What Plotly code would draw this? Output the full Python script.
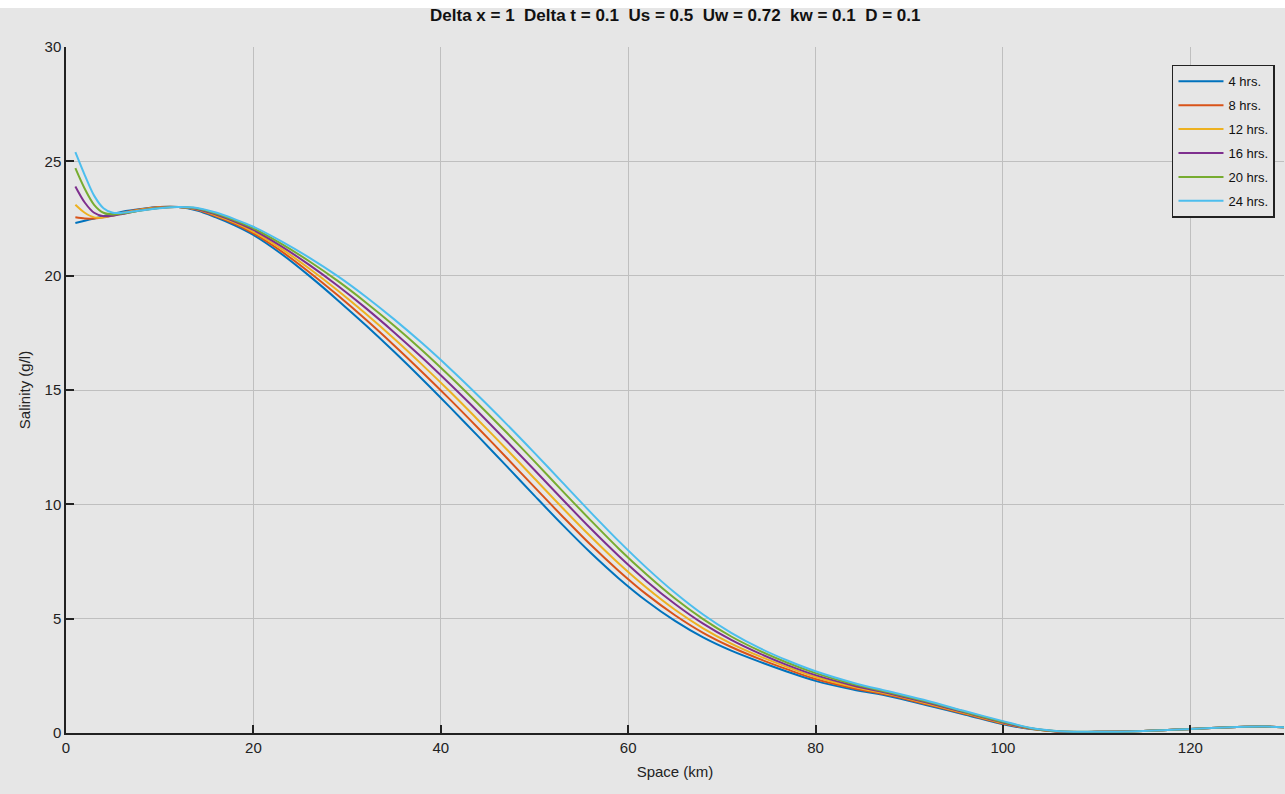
import plotly.graph_objects as go

# Distance along river (km)
space_km = [1, 2, 3, 4, 5, 6, 8, 10, 12, 14, 16, 18, 20, 23, 26, 29, 32, 35, 38, 41, 44, 47, 50,
            53, 56, 59, 62, 65, 68, 71, 74, 77, 80, 84, 88, 92, 96, 100, 103, 106, 110, 115, 120,
            125, 128, 130]

sal_4h = [22.3, 22.4, 22.5, 22.6, 22.7, 22.8, 22.92, 23.0, 23.0, 22.85, 22.55, 22.2, 21.78, 20.95,
          19.98, 18.93, 17.83, 16.68, 15.48, 14.24, 12.97, 11.68, 10.38, 9.1, 7.88, 6.76, 5.76, 4.9,
          4.18, 3.6, 3.12, 2.68, 2.28, 1.9, 1.6, 1.2, 0.8, 0.38, 0.17, 0.06, 0.05, 0.09, 0.18,
          0.26, 0.28, 0.25]
sal_8h = [22.55, 22.5, 22.5, 22.55, 22.65, 22.75, 22.9, 23.0, 23.0, 22.88, 22.6, 22.27, 21.85, 21.06,
          20.14, 19.14, 18.08, 16.96, 15.79, 14.58, 13.33, 12.05, 10.75, 9.47, 8.23, 7.09, 6.05, 5.15,
          4.38, 3.76, 3.24, 2.78, 2.36, 1.96, 1.64, 1.24, 0.83, 0.41, 0.18, 0.06, 0.05, 0.09, 0.18,
          0.26, 0.28, 0.25]
sal_12h = [23.1, 22.75, 22.55, 22.55, 22.62, 22.72, 22.88, 22.98, 23.0, 22.9, 22.63, 22.32, 21.92,
           21.17, 20.3, 19.35, 18.33, 17.25, 16.11, 14.92, 13.68, 12.42, 11.13, 9.84, 8.59, 7.41,
           6.34, 5.39, 4.58, 3.91, 3.36, 2.88, 2.45, 2.02, 1.68, 1.28, 0.86, 0.44, 0.19, 0.07,
           0.05, 0.09, 0.18, 0.26, 0.28, 0.25]
sal_16h = [23.9, 23.2, 22.75, 22.6, 22.62, 22.7, 22.86, 22.97, 23.0, 22.92, 22.67, 22.37, 22.0,
           21.28, 20.46, 19.56, 18.58, 17.53, 16.42, 15.25, 14.04, 12.78, 11.5, 10.21, 8.94, 7.74,
           6.63, 5.64, 4.78, 4.07, 3.48, 2.97, 2.53, 2.08, 1.72, 1.32, 0.89, 0.46, 0.2, 0.07,
           0.05, 0.09, 0.18, 0.26, 0.28, 0.25]
sal_20h = [24.7, 23.8, 23.1, 22.75, 22.68, 22.72, 22.85, 22.96, 23.0, 22.94, 22.72, 22.42, 22.07,
           21.39, 20.62, 19.77, 18.83, 17.82, 16.74, 15.59, 14.39, 13.15, 11.88, 10.58, 9.3, 8.06,
           6.92, 5.88, 4.98, 4.22, 3.6, 3.07, 2.62, 2.14, 1.76, 1.36, 0.92, 0.49, 0.21, 0.08,
           0.05, 0.09, 0.18, 0.26, 0.28, 0.25]
sal_24h = [25.4, 24.4, 23.5, 22.95, 22.75, 22.75, 22.85, 22.95, 23.0, 22.96, 22.76, 22.47, 22.14,
           21.5, 20.78, 19.98, 19.08, 18.1, 17.05, 15.93, 14.75, 13.52, 12.25, 10.95, 9.65, 8.39,
           7.21, 6.13, 5.18, 4.38, 3.72, 3.17, 2.7, 2.2, 1.8, 1.4, 0.95, 0.52, 0.22, 0.08, 0.05,
           0.09, 0.18, 0.26, 0.28, 0.25]

series_names = ["4 hrs.", "8 hrs.", "12 hrs.", "16 hrs.", "20 hrs.", "24 hrs."]
series_values = [sal_4h, sal_8h, sal_12h, sal_16h, sal_20h, sal_24h]
colors = ["#0072BD", "#D95319", "#EDB120", "#7E2F8E", "#77AC30", "#4DBEEE"]

x_ticks = [0, 20, 40, 60, 80, 100, 120]
y_ticks = [0, 5, 10, 15, 20, 25, 30]

BG = "#e6e6e6"
FONT = "Liberation Sans, Arial"

fig = go.Figure()
for name, vals, col in zip(series_names, series_values, colors):
    fig.add_trace(go.Scatter(
        x=space_km, y=vals, mode="lines", name=name, legendgroup=name,
        line=dict(color=col, width=2, shape="spline", smoothing=0.9),
    ))

fig.update_layout(
    width=1285, height=794,
    margin=dict(l=66, r=1, t=47, b=61),
    paper_bgcolor=BG, plot_bgcolor=BG,
    title=dict(text="<b>Delta x = 1  Delta t = 0.1  Us = 0.5  Uw = 0.72  kw = 0.1  D = 0.1</b>",
               x=0.5255, xanchor="center", y=0.981, yanchor="middle",
               font=dict(family=FONT, size=17, color="#111111")),
    font=dict(family=FONT, color="#222222"),
    showlegend=True,
    legend=dict(x=0.9926, xanchor="right", y=0.974, yanchor="top",
                bgcolor=BG, bordercolor="#222222", borderwidth=1.5,
                font=dict(family=FONT, size=13, color="#111111"),
                tracegroupgap=4, itemwidth=45),
    shapes=[dict(type="rect", xref="paper", yref="paper", x0=-0.06, x1=1.01,
                 y0=1.0569, y1=1.08, fillcolor="white", line=dict(width=0), layer="below")],
)

fig.update_xaxes(
    range=[0, 130], tickvals=x_ticks, ticktext=[str(v) for v in x_ticks],
    showgrid=True, gridcolor="#bfbfbf", gridwidth=1.3,
    showline=True, linecolor="#222222", linewidth=1.5, mirror=False,
    ticks="inside", ticklen=8, tickwidth=1.5, tickcolor="#222222",
    tickfont=dict(family=FONT, size=15, color="#222222"),
    title=dict(text="Space (km)", font=dict(family=FONT, size=15, color="#222222"), standoff=12),
    zeroline=False,
)
fig.update_yaxes(
    range=[0, 30], tickvals=y_ticks, ticktext=[str(v) for v in y_ticks],
    showgrid=True, gridcolor="#bfbfbf", gridwidth=1.3,
    showline=True, linecolor="#222222", linewidth=1.5, mirror=False,
    ticks="inside", ticklen=8, tickwidth=1.5, tickcolor="#222222",
    tickfont=dict(family=FONT, size=15, color="#222222"),
    title=dict(text="Salinity (g/l)", font=dict(family=FONT, size=15, color="#222222"), standoff=10),
    zeroline=False,
)

fig.write_html("out.html")
